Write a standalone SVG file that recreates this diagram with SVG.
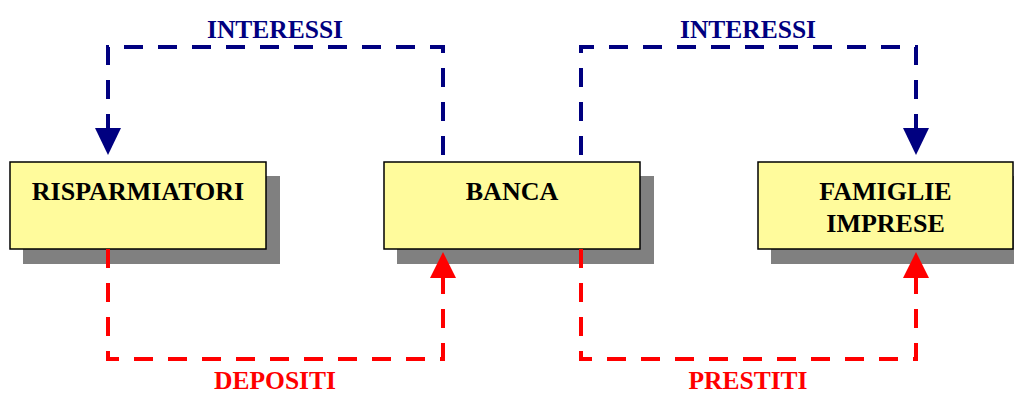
<svg xmlns="http://www.w3.org/2000/svg" width="1014" height="394" viewBox="0 0 1014 394">
<defs>
<style>
.shadow{fill:#808080}
.box{fill:#FFFB9C;stroke:#000;stroke-width:1.5}
.nt{font-family:"Liberation Serif",serif;font-weight:bold;font-size:26px;fill:#000;text-anchor:middle}
.lb{font-family:"Liberation Serif",serif;font-weight:bold;font-size:25.5px;text-anchor:middle}
.blue{fill:none;stroke:#000080;stroke-width:4;stroke-dasharray:19 15}
.red{fill:none;stroke:#FF0000;stroke-width:4;stroke-dasharray:19 15}
</style>
</defs>
<rect width="1014" height="394" fill="#fff"/>
<g id="risparmiatori">
<rect class="shadow" x="23" y="176" width="257" height="88"/>
<rect class="box" x="10" y="162" width="256" height="87"/>
<text class="nt" x="138" y="200">RISPARMIATORI</text>
</g>
<g id="banca">
<rect class="shadow" x="397" y="176" width="257" height="88"/>
<rect class="box" x="384" y="162" width="256" height="87"/>
<text class="nt" x="512" y="200">BANCA</text>
</g>
<g id="famiglie-imprese">
<rect class="shadow" x="771" y="176" width="257" height="88"/>
<rect class="box" x="758" y="162" width="255" height="87"/>
<text class="nt" x="885.5" y="200">FAMIGLIE</text>
<text class="nt" x="885.5" y="232">IMPRESE</text>
</g>
<g id="connectors">
<path class="blue" d="M443,155 L443,47 L108,47 L108,128"/>
<path d="M95,128 L121,128 L108,155 Z" fill="#000080"/>
<path class="blue" d="M581,155 L581,47 L916,47 L916,128"/>
<path d="M903,128 L929,128 L916,155 Z" fill="#000080"/>
<path class="red" d="M108,249 L108,359 L443,359 L443,278"/>
<path d="M430,278 L456,278 L443,252 Z" fill="#FF0000"/>
<path class="red" d="M581,249 L581,359 L916,359 L916,278"/>
<path d="M903,278 L929,278 L916,252 Z" fill="#FF0000"/>
<rect x="200" y="18" width="150" height="26" fill="#fff"/>
<rect x="674" y="18" width="150" height="26" fill="#fff"/>
<text class="lb" x="275" y="38" fill="#000080">INTERESSI</text>
<text class="lb" x="748" y="38" fill="#000080">INTERESSI</text>
<text class="lb" x="275" y="389" fill="#FF0000">DEPOSITI</text>
<text class="lb" x="748" y="389" fill="#FF0000">PRESTITI</text>
</g>
</svg>
